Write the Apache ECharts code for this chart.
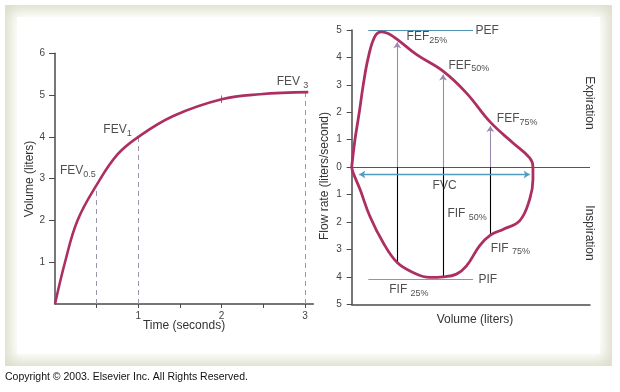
<!DOCTYPE html>
<html>
<head>
<meta charset="utf-8">
<script src="https://cdn.jsdelivr.net/npm/echarts@6/dist/echarts.min.js"></script>
<style>
  html, body { margin:0; padding:0; background:#fff; }
  #frame { position:absolute; left:5px; top:5px; width:607px; height:361px; background:#dcdfcb; }
  #inner { position:absolute; left:12px; top:12px; right:12px; bottom:12px; background:#fff; box-shadow:0 0 12px 6px #fff; }
  #chart { position:absolute; left:0; top:0; width:620px; height:392px; }
</style>
</head>
<body>
<div id="frame"><div id="inner"></div></div>
<div id="chart"></div>
<script>
// ---- Left chart: volume-time curve ----
const timeSec = [0, 0.12, 0.27, 0.5, 0.75, 1, 1.42, 2, 2.46, 3.04];
const volumeL = [0, 1.0, 2.0, 2.85, 3.58, 4.0, 4.5, 4.9, 5.02, 5.07];
const fevTimes = [0.5, 1, 3];
const fevValues = [2.85, 4.0, 5.07];
const timeTicks = [0.5, 1, 1.5, 2, 2.5, 3];
const timeLabels = [1, 2, 3];
const volTicks = [1, 2, 3, 4, 5, 6];

// ---- Right chart: flow-volume loop ----
const loopVolume = [0, 0.09, 0.21, 0.32, 0.46, 0.64, 0.83, 1.01, 1.26, 1.8, 2.53, 3.18, 3.84, 4.46, 4.93, 5.02,
                    5.02, 4.93, 4.65, 4.19, 3.84, 3.54, 3.18, 2.9, 2.53, 2.16, 1.7, 1.26, 0.87, 0.5, 0.23, 0.04, 0];
const loopFlow   = [0, 1.0, 2.0, 3.0, 4.0, 4.76, 4.93, 4.87, 4.66, 4.1, 3.5, 2.7, 1.64, 0.89, 0.34, 0,
                    -0.45, -1.17, -1.96, -2.27, -2.48, -2.87, -3.6, -3.9, -4.0, -4.02, -3.84, -3.48, -2.75, -1.78, -0.81, -0.2, 0];
const fefVolumes = [1.26, 2.53, 3.84];
const fefFlows = [4.55, 3.38, 1.5];
const fifFlows = [-3.48, -4.0, -2.48];
const pefFlow = 4.98, pifFlow = -4.08;
const peakLineVol = [0.46, 3.36];
const fvcVol = [0.21, 4.93], fvcFlow = -0.27;
const flowTicks = [-5, -4, -3, -2, -1, 0, 1, 2, 3, 4, 5];

// annotation anchors [x, y, text, sub]
const leftNotes = [[0.06, 3.18, 'FEV', '0.5'], [0.58, 4.16, 'FEV', '1'], [2.66, 5.32, 'FEV ', '3']];
const rightNotes = [[1.52, 4.75, 'FEF', '25%'], [2.68, 3.71, 'FEF', '50%'], [4.02, 1.77, 'FEF', '75%'],
                    [3.43, 4.99, 'PEF', ''], [2.65, -1.71, 'FIF ', '50%'], [3.85, -2.96, 'FIF ', '75%'],
                    [1.04, -4.48, 'FIF ', '25%'], [3.51, -4.11, 'PIF', ''], [2.24, -0.66, 'FVC', '']];

const FONT = 'Liberation Sans, Arial, sans-serif';
const CURVE = '#ad2f62';
const AX = '#4a4a4a';

const rich = {
  m: { fontSize: 12, color: '#222', fontFamily: FONT, lineHeight: 14 },
  s: { fontSize: 9, color: '#222', fontFamily: FONT, lineHeight: 14, padding: [7, 0, 0, 0] }
};
function noteSeries(notes, xi) {
  return {
    type: 'scatter', xAxisIndex: xi, yAxisIndex: xi, symbolSize: 0, silent: true,
    data: notes.map(n => ({ value: [n[0], n[1]], t: n[2], s: n[3] })),
    label: {
      show: true, position: 'right', distance: 0,
      formatter: p => '{m|' + p.data.t + '}' + (p.data.s ? '{s|' + p.data.s + '}' : ''),
      rich: rich
    }
  };
}
function seg(x1, y1, x2, y2) { return { coords: [[x1, y1], [x2, y2]] }; }

const chart = echarts.init(document.getElementById('chart'), null, { renderer: 'canvas' });
const option = {
  animation: false,
  textStyle: { fontFamily: FONT },
  grid: [
    { left: 55, top: 53.3, width: 258.3, height: 250.7 },
    { left: 351.7, top: 30, width: 238.3, height: 274.3 }
  ],
  xAxis: [
    { gridIndex: 0, type: 'value', min: 0, max: 3.1, interval: 0.5, splitLine: { show: false },
      axisLine: { lineStyle: { color: AX, width: 1.5 } },
      axisTick: { customValues: timeTicks, length: 4, lineStyle: { color: AX } },
      axisLabel: { customValues: timeLabels, margin: 7, fontSize: 10, color: '#444' } },
    { gridIndex: 1, type: 'value', min: 0, max: 6.6, splitLine: { show: false },
      axisLine: { onZero: false, lineStyle: { color: AX, width: 1.5 } },
      axisTick: { show: false }, axisLabel: { show: false } }
  ],
  yAxis: [
    { gridIndex: 0, type: 'value', min: 0, max: 6, interval: 1, splitLine: { show: false },
      axisLine: { show: true, lineStyle: { color: AX, width: 1.5 } },
      axisTick: { show: true, customValues: volTicks, length: 6, lineStyle: { color: AX } },
      axisLabel: { customValues: volTicks, margin: 10, fontSize: 10, color: '#444' } },
    { gridIndex: 1, type: 'value', min: -5, max: 5, interval: 1, splitLine: { show: false },
      axisLine: { show: true, onZero: false, lineStyle: { color: AX, width: 1.5 } },
      axisTick: { show: true, customValues: flowTicks, length: 5, lineStyle: { color: AX } },
      axisLabel: { customValues: flowTicks, margin: 10, fontSize: 10, color: '#444', formatter: v => String(Math.abs(v)) } }
  ],
  graphic: [
    { type: 'text', left: 5, top: 372, style: { text: 'Copyright \u00a9 2003. Elsevier Inc. All Rights Reserved.', font: '10.5px ' + FONT, fill: '#111' } },
    { type: 'text', x: 30, y: 179, rotation: Math.PI / 2, style: { text: 'Volume (liters)', font: '12px ' + FONT, fill: '#333', align: 'center', verticalAlign: 'middle' } },
    { type: 'text', x: 184, y: 326, style: { text: 'Time (seconds)', font: '12px ' + FONT, fill: '#333', align: 'center', verticalAlign: 'middle' } },
    { type: 'text', x: 325, y: 176, rotation: Math.PI / 2, style: { text: 'Flow rate (liters/second)', font: '12px ' + FONT, fill: '#333', align: 'center', verticalAlign: 'middle' } },
    { type: 'text', x: 475, y: 320, style: { text: 'Volume (liters)', font: '12px ' + FONT, fill: '#333', align: 'center', verticalAlign: 'middle' } },
    { type: 'text', x: 589, y: 103, rotation: -Math.PI / 2, style: { text: 'Expiration', font: '12px ' + FONT, fill: '#333', align: 'center', verticalAlign: 'middle' } },
    { type: 'text', x: 589, y: 233, rotation: -Math.PI / 2, style: { text: 'Inspiration', font: '12px ' + FONT, fill: '#333', align: 'center', verticalAlign: 'middle' } }
  ],
  series: [
    // FEV dashed drops
    { type: 'lines', coordinateSystem: 'cartesian2d', xAxisIndex: 0, yAxisIndex: 0, silent: true,
      lineStyle: { color: '#9d93ab', width: 1, type: [5, 4], opacity: 1 },
      data: fevTimes.map((t, i) => seg(t, 0, t, fevValues[i])) },
    // tick mark on curve at 2 s
    { type: 'lines', coordinateSystem: 'cartesian2d', xAxisIndex: 0, yAxisIndex: 0, silent: true,
      lineStyle: { color: '#777', width: 1, opacity: 1 },
      data: [seg(2, volumeL[7] - 0.09, 2, volumeL[7] + 0.09)] },
    { type: 'line', xAxisIndex: 0, yAxisIndex: 0, smooth: 0.4, symbol: 'none', silent: true,
      lineStyle: { color: CURVE, width: 2.6 },
      data: timeSec.map((t, i) => [t, volumeL[i]]) },
    noteSeries(leftNotes, 0),

    // zero line
    { type: 'lines', coordinateSystem: 'cartesian2d', xAxisIndex: 1, yAxisIndex: 1, silent: true,
      lineStyle: { color: '#555', width: 1.2, opacity: 1 }, data: [seg(0, 0, 6.6, 0)] },
    // PEF / PIF lines
    { type: 'lines', coordinateSystem: 'cartesian2d', xAxisIndex: 1, yAxisIndex: 1, silent: true,
      lineStyle: { color: '#4f93b3', width: 1, opacity: 1 }, data: [seg(peakLineVol[0], pefFlow, peakLineVol[1], pefFlow)] },
    { type: 'lines', coordinateSystem: 'cartesian2d', xAxisIndex: 1, yAxisIndex: 1, silent: true,
      lineStyle: { color: '#b5849f', width: 1, opacity: 1 }, data: [seg(peakLineVol[0], pifFlow, peakLineVol[1], pifFlow)] },
    // FEF arrows
    { type: 'lines', coordinateSystem: 'cartesian2d', xAxisIndex: 1, yAxisIndex: 1, silent: true,
      symbol: ['none', 'arrow'], symbolSize: 6,
      lineStyle: { color: '#9c8ab0', width: 1.1, opacity: 1 },
      data: fefVolumes.map((v, i) => seg(v, 0, v, fefFlows[i])) },
    // FIF black drops
    { type: 'lines', coordinateSystem: 'cartesian2d', xAxisIndex: 1, yAxisIndex: 1, silent: true,
      lineStyle: { color: '#000', width: 1.1, opacity: 1 },
      data: fefVolumes.map((v, i) => seg(v, 0, v, fifFlows[i])) },
    // FVC double arrow
    { type: 'lines', coordinateSystem: 'cartesian2d', xAxisIndex: 1, yAxisIndex: 1, silent: true,
      symbol: ['arrow', 'arrow'], symbolSize: 6,
      lineStyle: { color: '#4f9cc0', width: 1.3, opacity: 1 },
      data: [seg(fvcVol[0], fvcFlow, fvcVol[1], fvcFlow)] },
    // loop
    { type: 'line', xAxisIndex: 1, yAxisIndex: 1, smooth: 0.4, symbol: 'none', silent: true,
      lineStyle: { color: CURVE, width: 2.8 },
      data: loopVolume.map((v, i) => [v, loopFlow[i]]) },
    noteSeries(rightNotes, 1)
  ]
};
chart.setOption(option);
</script>
</body>
</html>
